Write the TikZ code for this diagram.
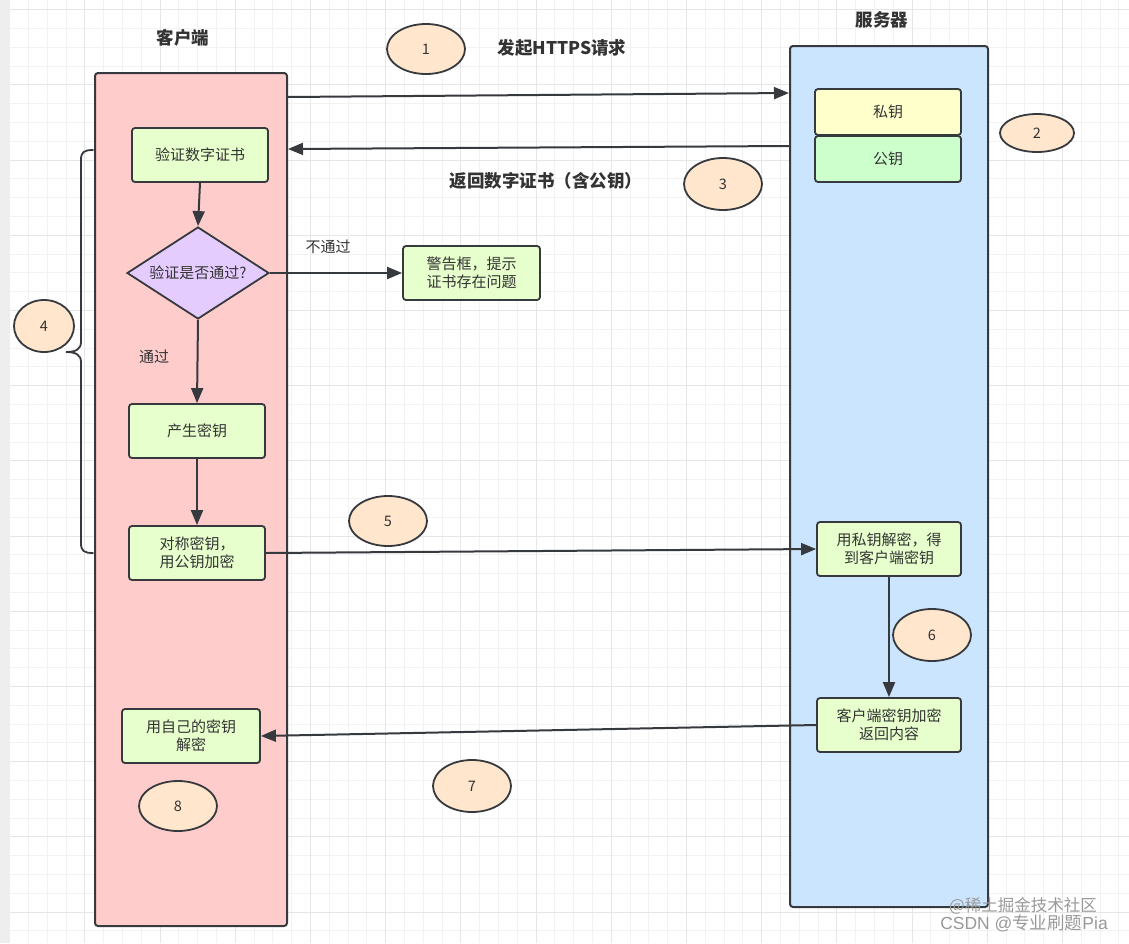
\documentclass[tikz,border=0pt]{standalone}
\usepackage{fontspec}
\setmainfont{Noto Sans CJK SC}
\newfontfamily\wmfont{Liberation Sans}
\usetikzlibrary{shapes.geometric,arrows.meta}
\definecolor{ln}{HTML}{36393D}
\definecolor{txt}{HTML}{333333}
\definecolor{clientc}{HTML}{FFCCCC}
\definecolor{serverc}{HTML}{CCE5FF}
\definecolor{skc}{HTML}{FFFFCC}
\definecolor{pkc}{HTML}{CCFFCC}
\definecolor{boxc}{HTML}{E6FFCC}
\definecolor{diac}{HTML}{E5CCFF}
\definecolor{ellc}{HTML}{FFE6CC}
\definecolor{minorg}{HTML}{F2F2F2}
\definecolor{majorg}{HTML}{E6E6E6}
\definecolor{stripc}{HTML}{EEEEEE}
\tikzset{
  lane/.style={draw=ln, line width=2pt, rounded corners=3pt, inner sep=0pt},
  stepbox/.style={draw=ln, line width=1.8pt, rounded corners=3pt, fill=boxc, inner sep=0pt,
    minimum height=54, text=txt, align=center, font=\fontsize{15}{18.3}\selectfont},
  keybox/.style={stepbox, minimum width=146, minimum height=46},
  decision/.style={diamond, aspect=1.54, draw=ln, line width=1.8pt, fill=diac, inner sep=0pt,
    minimum width=142, minimum height=92, text=txt, font=\fontsize{15}{18}\selectfont},
  num/.style={ellipse, draw=ln, line width=1.8pt, fill=ellc, inner sep=0pt, text=txt,
    font=\fontsize{14.5}{16}\selectfont},
  arr/.style={draw=ln, line width=2pt, -{Triangle[length=15pt,width=12pt]}},
  title/.style={text=txt, font=\fontsize{17.5}{20}\selectfont\bfseries},
  lbl/.style={text=txt, font=\fontsize{15}{18}\selectfont},
  wm/.style={text=black!40, inner sep=0pt, font=\fontsize{16.5}{18}\selectfont}
}
\begin{document}
\begin{tikzpicture}[x=1pt,y=-1pt]
\useasboundingbox (0,0) rectangle (1129,943);
\fill[white] (0,0) rectangle (1129,943);
% grid
\foreach \i in {0,...,60} {
  \draw[minorg, line width=0.8pt] (9.5+18.8*\i,0) -- (9.5+18.8*\i,943);
}
\foreach \j in {0,...,50} {
  \draw[minorg, line width=0.8pt] (10,9.5+18.8*\j) -- (1129,9.5+18.8*\j);
}
\foreach \i in {0,...,15} {
  \draw[majorg, line width=0.8pt] (9.5+75.2*\i,0) -- (9.5+75.2*\i,943);
}
\foreach \j in {0,...,12} {
  \draw[majorg, line width=0.8pt] (10,9.5+75.2*\j) -- (1129,9.5+75.2*\j);
}
\fill[stripc] (0,0) rectangle (10,943);

% lanes
\node[lane, fill=clientc, minimum width=192, minimum height=853] (client) at (191,499.5) {};
\node[lane, fill=serverc, minimum width=198, minimum height=861] (server) at (889,476.5) {};

\node[title] (tclient) at (183,38) {客户端};
\node[title] (tserver) at (882,20) {服务器};

% server keys
\node[keybox, fill=skc] (sk) at (888,112) {私钥};
\node[keybox, fill=pkc] (pk) at (888,159) {公钥};

% client steps
\node[stepbox, minimum width=136] (verify) at (200,155) {验证数字证书};
\node[decision] (check) at (198,273) {验证是否通过?};
\node[stepbox, minimum width=137] (warn) at (471.5,273) {警告框，提示\\证书存在问题};
\node[stepbox, minimum width=136] (gen) at (197,431) {产生密钥};
\node[stepbox, minimum width=136] (enc) at (197,553) {对称密钥，\\用公钥加密};
\node[stepbox, minimum width=144] (dec) at (889,549) {用私钥解密，得\\到客户端密钥};
\node[stepbox, minimum width=144] (ret) at (889,725) {客户端密钥加密\\返回内容};
\node[stepbox, minimum width=138] (own) at (191,736) {用自己的密钥\\解密};

% labels
\node[title] (l1) at (562,48) {发起HTTPS请求};
\node[title] (l3) at (546,181) {返回数字证书（含公钥）};
\node[lbl] (lno) at (328,247) {不通过};
\node[lbl] (lyes) at (154,357) {通过};

% numbered ellipses
\node[num, minimum width=78, minimum height=50] (e1) at (426,49) {1};
\node[num, minimum width=74, minimum height=38] (e2) at (1037,133) {2};
\node[num, minimum width=78, minimum height=52] (e3) at (723,184) {3};
\node[num, minimum width=60, minimum height=52] (e4) at (44,326) {4};
\node[num, minimum width=78, minimum height=50] (e5) at (388,521) {5};
\node[num, minimum width=78, minimum height=52] (e6) at (932,635) {6};
\node[num, minimum width=78, minimum height=52] (e7) at (472,786) {7};
\node[num, minimum width=78, minimum height=50] (e8) at (178,806) {8};

% connectors
\draw[arr] (client.east |- 0,97) -- (server.west |- 0,93);
\draw[arr] (server.west |- 0,146) -- (client.east |- 0,149);
\draw[arr] (verify.south) -- (check.north);
\draw[arr] (check.east) -- (warn.west);
\draw[arr] (check.south) -- (gen.north);
\draw[arr] (gen.south) -- (enc.north);
\draw[arr] (enc.east) -- (dec.west);
\draw[arr] (dec.south) -- (ret.north);
\draw[arr] (ret.west) -- (own.east);

% brace
\draw[ln, line width=1.8pt, line cap=round]
  (93,150) .. controls (84,150) and (81,152) .. (81,160)
  -- (81,342) .. controls (81,349) and (76,352) .. (66,352)
  .. controls (76,352) and (81,355) .. (81,362)
  -- (81,543) .. controls (81,551) and (84,553) .. (93,553);

% watermark
\node[wm] (wm1) at (1023,906) {@稀土掘金技术社区};
\node[wm, font=\wmfont\fontsize{17.5}{18}\selectfont] (wm2) at (1024,923) {CSDN @\fontspec{Noto Sans CJK SC}专业刷题\wmfont Pia};
\end{tikzpicture}
\end{document}
